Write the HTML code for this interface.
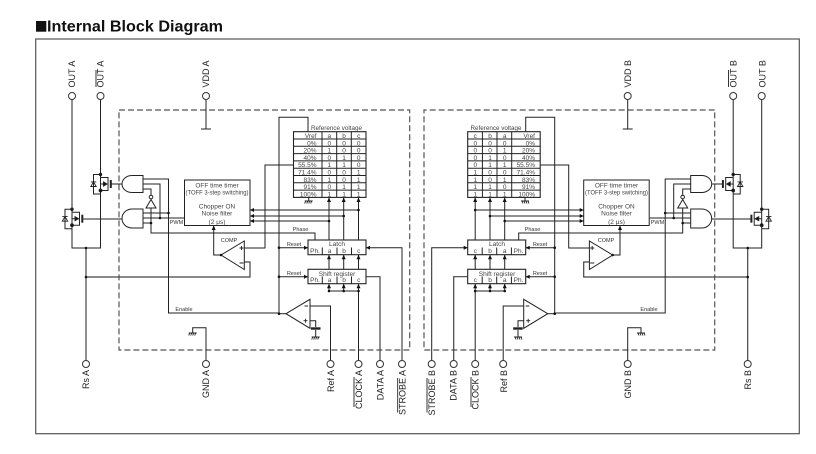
<!DOCTYPE html>
<html><head><meta charset="utf-8"><style>
html,body{margin:0;padding:0;background:#fff}
svg{display:block}
text{font-family:"Liberation Sans",sans-serif;fill:#222}
.p{font-size:9px;fill:#222}
.s{font-size:6.5px;text-anchor:middle;fill:#444}
.l{font-size:5.5px;text-anchor:middle;fill:#333}
.v{font-size:6.5px;text-anchor:end;fill:#444}
.r{text-anchor:end}
</style></head><body>
<svg width="816" height="454" viewBox="0 0 816 454" xmlns="http://www.w3.org/2000/svg">
<defs>
<g id="gnd" fill="none" stroke="#222" stroke-width="0.9"><path d="M-4 0H4M-3 0l-1 2.5M-1 0l-1 2.5M1 0l-1 2.5M3 0l-1 2.5"/></g>
<path id="al" d="M0 0l4-2v4z" fill="#111"/>
<path id="ar" d="M0 0l-4-2v4z" fill="#111"/>
<circle id="d" r="1.3" fill="#111"/>
<g id="t" fill="none" stroke="#222" stroke-width="1">
<path d="M100.5 174.5H93.5V194H100.5"/>
<path d="M90.8 186.5h5.4l-2.7-4.6zM90.8 181.9h5.4" stroke-width="0.9"/>
<path d="M108 177V191M100.5 177.5H108M100.5 190.5H108M100.5 184H107"/>
<path d="M110.8 180V188" stroke-width="2"/>
<path d="M107 184l-3.5-2v4z" fill="#111"/>
<circle cx="100.5" cy="174.5" r="1.2" fill="#111"/>
<circle cx="100.5" cy="190.5" r="1.4" fill="#111"/>
</g>
<g id="m">
<rect x="119" y="110" width="290.7" height="240" fill="none" stroke="#555" stroke-width="1.2" stroke-dasharray="6 3"/>
<g fill="none" stroke="#222" stroke-width="1">
<!-- outputs -->
<path d="M72 99.5V248H100.5V99.5"/>
<path d="M86 248V360.5" stroke="#444" stroke-width="1.2"/>
<path d="M86 277H250V262H244" stroke="#444" stroke-width="1.2"/>
<path d="M206 99.5V129M201 129H211"/>
<path d="M206 360.5V327.7H192.7V333"/>
<path d="M111 184H122M82 219H122"/>
<!-- gates -->
<path d="M143 175.5H132A10 8.5 0 0 0 132 192.5H143Z" fill="#fff"/>
<path d="M143 209H132A10 9.5 0 0 0 132 228H143Z" fill="#fff"/>
<path d="M143 179H168.5V313H279"/>
<path d="M143 184H160V218"/>
<path d="M143 189H151V195"/>
<path d="M143 213H168.5"/>
<path d="M143 218H184"/>
<path d="M143 223H151"/>
<path d="M151 208V233H315V240"/>
<path d="M151 199.5L146 208H156Z" fill="#fff"/>
<circle cx="151" cy="197" r="1.8" fill="#fff"/>
<!-- timer -->
<rect x="184.5" y="180" width="65.5" height="45.5" fill="#fff"/>
<path d="M250 210H358.5M250 216H343.7M250 221H329"/>
<!-- comp -->
<path d="M221 255L244.3 241V269.5Z" fill="#fff"/>
<path d="M221 255H213.7V226"/>
<path d="M244 248H265V165H293"/>
<!-- table feed -->
<path d="M308 131.7V117.3H279V313"/>
<!-- columns -->
<path d="M329 198V240M343.7 198V240M358.5 198V240M329 255V269M343.7 255V269M358.5 255V269M329 284V291H358.5M343.7 284V291M358.5 284V360.5"/>
<path d="M279 247.7H308M279 276.7H308"/>
<path d="M366 247.7H402V360.5"/>
<path d="M366 276.7H380V360.5" stroke="#444" stroke-width="1.2"/>
<!-- table -->
<rect x="293.5" y="131.7" width="72.5" height="65.7" fill="none" stroke-width="1.1"/>
<path d="M293.5 139H366M293.5 146.3H366M293.5 153.6H366M293.5 160.9H366M293.5 168.2H366M293.5 175.5H366M293.5 182.8H366M293.5 190.1H366M322 131.7V197.4M336.7 131.7V197.4M351.3 131.7V197.4"/>
<path d="M308.7 197.4V201"/>
<!-- latch -->
<rect x="308" y="240" width="58" height="14.7" fill="#fff" stroke-width="1.1"/>
<rect x="308" y="269.3" width="58" height="14.4" fill="#fff" stroke-width="1.1"/>
<path d="M322.3 247.5V254.7M337 247.5V254.7M351.5 247.5V254.7M322.3 276.5V283.7M337 276.5V283.7M351.5 276.5V283.7"/>
<!-- ref amp -->
<path d="M286 313.7L310 299.3V328.3Z" fill="#fff"/>
<path d="M279 313.7H286"/>
<path d="M310 306H330.5V360.5"/>
<path d="M310 320.7H315.7V327M315.7 330V337"/>
<path d="M311 328.5H320.5" stroke-width="2.4"/>
</g>
<path d="M239.5 248h4M241.5 246v4M239.5 263h4M304.5 306h3.5M303.5 320.7h4M305.5 318.7v4" stroke="#222" stroke-width="0.9" fill="none"/>
<use href="#gnd" x="192.7" y="333"/><use href="#gnd" x="308.7" y="201"/><use href="#gnd" x="315.7" y="337"/>
<use href="#t"/>
<use href="#t" transform="translate(-28.5 34.7)"/>
<use href="#al" x="250" y="210"/><use href="#al" x="250" y="216"/><use href="#al" x="250" y="221"/>
<path d="M213.7 225.5l-2 4.5h4zM329 197.5l-2 4.5h4zM343.7 197.5l-2 4.5h4zM358.5 197.5l-2 4.5h4zM329 254.7l-2 4.5h4zM343.7 254.7l-2 4.5h4zM358.5 254.7l-2 4.5h4zM329 283.7l-2 4.5h4zM343.7 283.7l-2 4.5h4zM358.5 283.7l-2 4.5h4z" fill="#111"/>
<use href="#ar" x="308" y="247.7"/><use href="#ar" x="308" y="276.7"/><use href="#al" x="366" y="247.7"/>
<use href="#d" x="168.5" y="213"/><use href="#d" x="160" y="218"/><use href="#d" x="151" y="223"/><use href="#d" x="279" y="247.7"/><use href="#d" x="279" y="276.7"/><use href="#d" x="279" y="313.7"/><use href="#d" x="86" y="248"/><use href="#d" x="86" y="277"/><use href="#d" x="329" y="221"/><use href="#d" x="343.7" y="216"/><use href="#d" x="358.5" y="210"/><use href="#d" x="343.7" y="291"/><use href="#d" x="358.5" y="291"/><use href="#d" x="329" y="291"/><use href="#d" x="221" y="255"/>
<g fill="#fff" stroke="#333" stroke-width="1">
<circle cx="72" cy="96" r="3.5"/><circle cx="100.5" cy="96" r="3.5"/><circle cx="206" cy="96" r="3.5"/>
<circle cx="86" cy="364" r="3.5"/><circle cx="206" cy="364" r="3.5"/><circle cx="330.5" cy="364" r="3.5"/><circle cx="358.5" cy="364" r="3.5"/><circle cx="380" cy="364" r="3.5"/><circle cx="402" cy="364" r="3.5"/>
</g>
</g>
</defs>
<rect width="816" height="454" fill="#fff"/>
<rect x="35.7" y="39" width="763.6" height="394.7" fill="none" stroke="#555" stroke-width="1.2"/>
<rect x="36" y="21" width="10.3" height="10.7" fill="#111"/>
<text x="47" y="31.7" font-size="15.3" font-weight="700" textLength="176" lengthAdjust="spacingAndGlyphs" style="fill:#111">Internal Block Diagram</text>
<use href="#m"/>
<use href="#m" transform="translate(833.7 0) scale(-1 1)"/>

<!-- pin labels -->
<text class="p" transform="translate(75.2 87.5) rotate(-90)">OUT A</text>
<text class="p" transform="translate(103.7 87.5) rotate(-90)">OUT A</text>
<text class="p" transform="translate(209.2 87.5) rotate(-90)">VDD A</text>
<text class="p r" transform="translate(89.2 370) rotate(-90)">Rs A</text>
<text class="p r" transform="translate(209.2 370) rotate(-90)">GND A</text>
<text class="p r" transform="translate(334 370) rotate(-90)">Ref A</text>
<text class="p r" transform="translate(362 370) rotate(-90)">CLOCK A</text>
<text class="p r" transform="translate(383.4 370) rotate(-90)">DATA A</text>
<text class="p r" transform="translate(405.4 370) rotate(-90)">STROBE A</text>
<text class="p r" transform="translate(435.2 370) rotate(-90)">STROBE B</text>
<text class="p r" transform="translate(456.5 370) rotate(-90)">DATA B</text>
<text class="p r" transform="translate(478.7 370) rotate(-90)">CLOCK B</text>
<text class="p r" transform="translate(506.8 370) rotate(-90)">Ref B</text>
<text class="p r" transform="translate(631.2 370) rotate(-90)">GND B</text>
<text class="p r" transform="translate(751 370) rotate(-90)">Rs B</text>
<text class="p" transform="translate(631.2 87.5) rotate(-90)">VDD B</text>
<text class="p" transform="translate(736.4 87.5) rotate(-90)">OUT B</text>
<text class="p" transform="translate(765.3 87.5) rotate(-90)">OUT B</text>
<path d="M96 70V87M354 377V407M397.7 378V412.5M427 378V412.5M471 377V407M728.5 70V87" stroke="#222" stroke-width="0.9" fill="none"/>

<!-- left small text -->
<text class="s" x="217" y="187.5">OFF time timer</text>
<text class="s" x="217" y="194.5" textLength="63" lengthAdjust="spacingAndGlyphs">(TOFF 3-step switching)</text>
<text class="s" x="217" y="208.5">Chopper ON</text>
<text class="s" x="217" y="215.5">Noise filter</text>
<text class="s" x="217" y="224">(2 μs)</text>
<text class="l" x="176.5" y="224">PWM</text>
<text class="l" x="229" y="242">COMP</text>
<text class="l" x="300.5" y="231">Phase</text>
<text class="l" x="294" y="246">Reset</text>
<text class="l" x="294" y="275">Reset</text>
<text class="l" x="184" y="311">Enable</text>
<text class="s" x="337" y="246">Latch</text>
<text class="s" x="337" y="276">Shift register</text>
<text class="s" x="315" y="253">Ph.</text><text class="s" x="329.5" y="253">a</text><text class="s" x="344" y="253">b</text><text class="s" x="358.7" y="253">c</text>
<text class="s" x="315" y="282">Ph.</text><text class="s" x="329.5" y="282">a</text><text class="s" x="344" y="282">b</text><text class="s" x="358.7" y="282">c</text>
<text class="s" x="336.5" y="130" textLength="51" lengthAdjust="spacingAndGlyphs">Reference voltage</text>
<text class="v" x="316.5" y="138">Vref</text><text class="s" x="329.3" y="138">a</text><text class="s" x="344" y="138">b</text><text class="s" x="358.7" y="138">c</text>
<text class="v" x="316.5" y="145.3">0%</text><text class="s" x="329.3" y="145.3">0</text><text class="s" x="344" y="145.3">0</text><text class="s" x="358.7" y="145.3">0</text>
<text class="v" x="316.5" y="152.6">20%</text><text class="s" x="329.3" y="152.6">1</text><text class="s" x="344" y="152.6">0</text><text class="s" x="358.7" y="152.6">0</text>
<text class="v" x="316.5" y="159.9">40%</text><text class="s" x="329.3" y="159.9">0</text><text class="s" x="344" y="159.9">1</text><text class="s" x="358.7" y="159.9">0</text>
<text class="v" x="316.5" y="167.2">55.5%</text><text class="s" x="329.3" y="167.2">1</text><text class="s" x="344" y="167.2">1</text><text class="s" x="358.7" y="167.2">0</text>
<text class="v" x="316.5" y="174.5">71.4%</text><text class="s" x="329.3" y="174.5">0</text><text class="s" x="344" y="174.5">0</text><text class="s" x="358.7" y="174.5">1</text>
<text class="v" x="316.5" y="181.8">83%</text><text class="s" x="329.3" y="181.8">1</text><text class="s" x="344" y="181.8">0</text><text class="s" x="358.7" y="181.8">1</text>
<text class="v" x="316.5" y="189.1">91%</text><text class="s" x="329.3" y="189.1">0</text><text class="s" x="344" y="189.1">1</text><text class="s" x="358.7" y="189.1">1</text>
<text class="v" x="316.5" y="196.4">100%</text><text class="s" x="329.3" y="196.4">1</text><text class="s" x="344" y="196.4">1</text><text class="s" x="358.7" y="196.4">1</text>

<!-- right small text -->
<text class="s" x="616.5" y="187.5">OFF time timer</text>
<text class="s" x="616.5" y="194.5" textLength="63" lengthAdjust="spacingAndGlyphs">(TOFF 3-step switching)</text>
<text class="s" x="616.5" y="208.5">Chopper ON</text>
<text class="s" x="616.5" y="215.5">Noise filter</text>
<text class="s" x="616.5" y="224">(2 μs)</text>
<text class="l" x="657.5" y="224">PWM</text>
<text class="l" x="606" y="242">COMP</text>
<text class="l" x="532.5" y="231">Phase</text>
<text class="l" x="540" y="246">Reset</text>
<text class="l" x="540" y="275">Reset</text>
<text class="l" x="649" y="311">Enable</text>
<text class="s" x="497" y="246">Latch</text>
<text class="s" x="497" y="276">Shift register</text>
<text class="s" x="518.5" y="253">Ph.</text><text class="s" x="504.7" y="253">a</text><text class="s" x="490" y="253">b</text><text class="s" x="475.3" y="253">c</text>
<text class="s" x="518.5" y="282">Ph.</text><text class="s" x="504.7" y="282">a</text><text class="s" x="490" y="282">b</text><text class="s" x="475.3" y="282">c</text>
<text class="s" x="496" y="130" textLength="51" lengthAdjust="spacingAndGlyphs">Reference voltage</text>
<text class="v" x="535" y="138">Vref</text><text class="s" x="504.7" y="138">a</text><text class="s" x="490" y="138">b</text><text class="s" x="475.3" y="138">c</text>
<text class="v" x="535" y="145.3">0%</text><text class="s" x="504.7" y="145.3">0</text><text class="s" x="490" y="145.3">0</text><text class="s" x="475.3" y="145.3">0</text>
<text class="v" x="535" y="152.6">20%</text><text class="s" x="504.7" y="152.6">1</text><text class="s" x="490" y="152.6">0</text><text class="s" x="475.3" y="152.6">0</text>
<text class="v" x="535" y="159.9">40%</text><text class="s" x="504.7" y="159.9">0</text><text class="s" x="490" y="159.9">1</text><text class="s" x="475.3" y="159.9">0</text>
<text class="v" x="535" y="167.2">55.5%</text><text class="s" x="504.7" y="167.2">1</text><text class="s" x="490" y="167.2">1</text><text class="s" x="475.3" y="167.2">0</text>
<text class="v" x="535" y="174.5">71.4%</text><text class="s" x="504.7" y="174.5">0</text><text class="s" x="490" y="174.5">0</text><text class="s" x="475.3" y="174.5">1</text>
<text class="v" x="535" y="181.8">83%</text><text class="s" x="504.7" y="181.8">1</text><text class="s" x="490" y="181.8">0</text><text class="s" x="475.3" y="181.8">1</text>
<text class="v" x="535" y="189.1">91%</text><text class="s" x="504.7" y="189.1">0</text><text class="s" x="490" y="189.1">1</text><text class="s" x="475.3" y="189.1">1</text>
<text class="v" x="535" y="196.4">100%</text><text class="s" x="504.7" y="196.4">1</text><text class="s" x="490" y="196.4">1</text><text class="s" x="475.3" y="196.4">1</text>
</svg>
</body></html>
